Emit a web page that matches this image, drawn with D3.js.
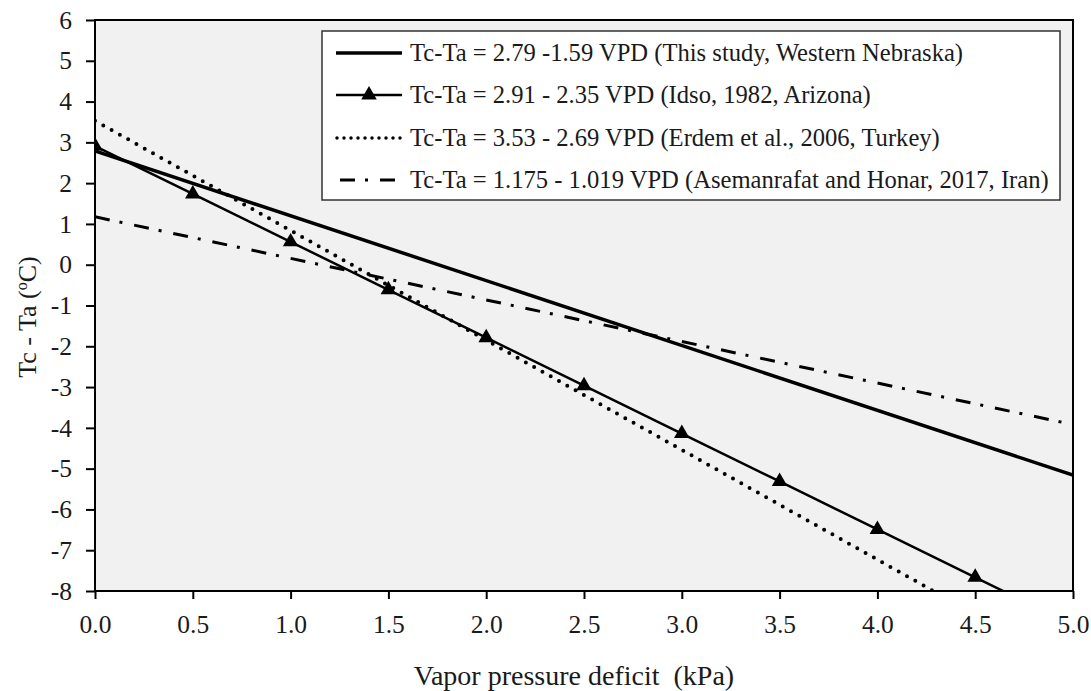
<!DOCTYPE html>
<html><head><meta charset="utf-8">
<script src="https://cdn.jsdelivr.net/npm/d3@7"></script>
<style>body{margin:0;background:#fff}svg{display:block}
svg text{font-family:"Liberation Serif","Times New Roman",Times,"DejaVu Serif",serif;}</style>
</head><body>
<script>
// Data
const xTicks = [0.0,0.5,1.0,1.5,2.0,2.5,3.0,3.5,4.0,4.5,5.0];
const yTicks = [-8,-7,-6,-5,-4,-3,-2,-1,0,1,2,3,4,5,6];
const studyX = [0, 5];
const studyY = [2.79, -5.16];
const idsoX = [0,0.5,1.0,1.5,2.0,2.5,3.0,3.5,4.0,4.5,5.0];
const idsoY = [2.91,1.735,0.56,-0.615,-1.79,-2.965,-4.14,-5.315,-6.49,-7.665,-8.84];
const erdemX = [0, 5];
const erdemY = [3.53, -9.92];
const asemX = [0, 5];
const asemY = [1.175, -3.92];
const legendLabels = [
  "Tc-Ta = 2.79 -1.59 VPD (This study, Western Nebraska)",
  "Tc-Ta = 2.91 - 2.35 VPD (Idso, 1982, Arizona)",
  "Tc-Ta = 3.53 - 2.69 VPD (Erdem et al., 2006, Turkey)",
  "Tc-Ta = 1.175 - 1.019 VPD (Asemanrafat and Honar, 2017, Iran)"
];

const W = 1091, H = 691;
const m = {l:95, r:18, t:20, b:100};
const svg = d3.select("body").append("svg").attr("width",W).attr("height",H);
const x = d3.scaleLinear().domain([0,5]).range([m.l, W-m.r]);
const y = d3.scaleLinear().domain([-8,6]).range([H-m.b, m.t]);

svg.append("defs").append("clipPath").attr("id","clip").append("rect")
  .attr("x",x(0)).attr("y",y(6)).attr("width",x(5)-x(0)).attr("height",y(-8)-y(6));

svg.append("rect").attr("x",x(0)).attr("y",y(6)).attr("width",x(5)-x(0)).attr("height",y(-8)-y(6))
  .attr("fill","#f1f1f1");

const g = svg.append("g").attr("clip-path","url(#clip)");
const line = d3.line().x(d=>x(d[0])).y(d=>y(d[1]));
const zip = (a,b)=>a.map((v,i)=>[v,b[i]]);

const dashDot = "15,10,3,12";
const dotted = "0,9.5";
g.append("path").datum(zip(asemX,asemY)).attr("d",line).attr("fill","none")
  .attr("stroke","#000").attr("stroke-width",3).attr("stroke-dasharray",dashDot);
g.append("path").datum(zip(erdemX,erdemY)).attr("d",line).attr("fill","none")
  .attr("stroke","#000").attr("stroke-width",4).attr("stroke-linecap","round").attr("stroke-dasharray",dotted);
g.append("path").datum(zip(studyX,studyY)).attr("d",line).attr("fill","none")
  .attr("stroke","#000").attr("stroke-width",3.5);
g.append("path").datum(zip(idsoX,idsoY)).attr("d",line).attr("fill","none")
  .attr("stroke","#000").attr("stroke-width",2.5);
const tri = d3.symbol().type(d3.symbolTriangle).size(105);
g.selectAll(".tri").data(zip(idsoX,idsoY).filter(d=>d[1]>=-8)).enter().append("path")
  .attr("d",tri).attr("transform",d=>`translate(${x(d[0])},${y(d[1])})`).attr("fill","#000");

// frame
svg.append("rect").attr("x",x(0)).attr("y",y(6)).attr("width",x(5)-x(0)).attr("height",y(-8)-y(6))
  .attr("fill","none").attr("stroke","#000").attr("stroke-width",2);

// axes
const xa = svg.append("g").attr("transform",`translate(0,${y(-8)})`)
  .call(d3.axisBottom(x).tickValues(xTicks).tickFormat(d3.format(".1f")).tickSize(8).tickPadding(16));
const ya = svg.append("g").attr("transform",`translate(${x(0)},0)`)
  .call(d3.axisLeft(y).tickValues(yTicks).tickFormat(d=>String(d)).tickSize(9).tickPadding(14));
[xa,ya].forEach(a=>{
  a.select(".domain").remove();
  a.selectAll("line").attr("stroke","#000").attr("stroke-width",2);
  a.selectAll("text").attr("font-size",25.5).attr("fill","#1a1a1a");
});

svg.append("text").attr("x",574).attr("y",685).attr("text-anchor","middle")
  .attr("font-size",28).attr("fill","#1a1a1a").attr("xml:space","preserve")
  .style("white-space","pre").text("Vapor pressure deficit  (kPa)");
const yt = svg.append("text").attr("transform",`translate(36,317) rotate(-90)`)
  .attr("text-anchor","middle").attr("font-size",26).attr("fill","#1a1a1a");
yt.append("tspan").text("Tc - Ta (");
yt.append("tspan").attr("font-size",16).attr("dy",-9).text("o");
yt.append("tspan").attr("dy",9).text("C)");

// legend
const lg = svg.append("g");
lg.append("rect").attr("x",322).attr("y",31).attr("width",738).attr("height",169)
  .attr("fill","#fff").attr("stroke","#333").attr("stroke-width",1.5);
const rowY = [53,95,138,180];
const styles = [
  {w:3.5, dash:null, cap:"butt"},
  {w:2.5, dash:null, cap:"butt"},
  {w:3.5, dash:"0,7", cap:"round"},
  {w:3, dash:"15,10,3,12", cap:"butt"}
];
legendLabels.forEach((t,i)=>{
  const x1 = i===3 ? 340 : (i===2 ? 337 : 336);
  const l = lg.append("line").attr("x1",x1).attr("x2",402).attr("y1",rowY[i]).attr("y2",rowY[i])
    .attr("stroke","#000").attr("stroke-width",styles[i].w).attr("stroke-linecap",styles[i].cap);
  if(styles[i].dash) l.attr("stroke-dasharray",styles[i].dash);
  if(i===1) lg.append("path").attr("d",tri).attr("transform",`translate(369,${rowY[i]})`).attr("fill","#000");
  lg.append("text").attr("x",410).attr("y",rowY[i]+8).attr("font-size",24.6)
    .attr("fill","#1a1a1a").text(t);
});
</script>
</body></html>
